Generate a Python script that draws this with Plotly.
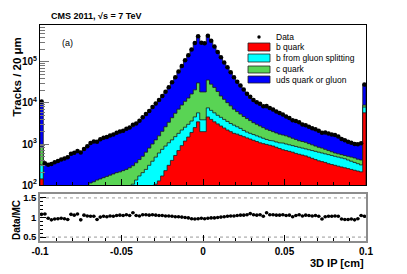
import numpy as np
import plotly.graph_objects as go

# ---------------- data (100 bins of 20 um from -0.1 to 0.1 cm, under/overflow folded into end bins)
bin_low, bin_high, n_bins = -0.1, 0.1, 100

# stacked (cumulative) MC levels, as drawn by the stack
stack_b = [141, 2, 2, 2, 2, 3, 3, 3, 3, 4, 4, 4, 5, 5, 6, 6, 7, 8, 9, 10,
           11, 12, 14, 16, 18, 20, 23, 26, 30, 35, 41, 48, 57, 68, 84, 105, 126, 166, 224, 302,
           398, 525, 692, 912, 1180, 1480, 1910, 2510, 3470, 2000, 2000, 4570, 3980, 3470, 3090, 2750, 2460, 2190, 2000, 1820,
           1740, 1620, 1510, 1410, 1320, 1230, 1150, 1070, 1020, 977, 933, 891, 832, 776, 724, 692, 661, 631, 589, 562,
           537, 513, 479, 447, 417, 389, 372, 355, 331, 316, 302, 288, 275, 263, 251, 240, 229, 219, 209, 5750]
stack_b_gsp = [309, 4, 4, 5, 5, 6, 6, 7, 8, 9, 10, 11, 12, 14, 16, 18, 20, 23, 26, 30,
               34, 39, 45, 52, 60, 70, 80, 92, 105, 132, 166, 200, 240, 302, 380, 479, 603, 741, 891, 1070,
               1260, 1510, 1820, 2190, 2570, 3020, 3630, 4570, 5750, 3890, 3890, 7590, 6610, 5750, 5010, 4470, 3980, 3550, 3160, 2880,
               2630, 2400, 2140, 1950, 1820, 1700, 1580, 1480, 1380, 1290, 1230, 1180, 1120, 1070, 1050, 1000, 955, 912, 871, 832,
               794, 759, 724, 692, 661, 631, 603, 575, 550, 525, 501, 479, 457, 437, 407, 380, 355, 331, 309, 7940]
stack_b_gsp_c = [851, 25, 28, 32, 35, 40, 44, 48, 52, 58, 63, 69, 76, 83, 93, 112, 120, 132, 141, 151,
                 162, 174, 186, 200, 209, 224, 240, 263, 295, 347, 417, 501, 631, 794, 1000, 1260, 1580, 2040, 2630, 3390,
                 4370, 5620, 7080, 8910, 11000, 13200, 16600, 20900, 30900, 18600, 18600, 36300, 28800, 24000, 19100, 14800, 12300, 10200, 8510, 7080,
                 6170, 5370, 4680, 4170, 3720, 3310, 3020, 2750, 2510, 2290, 2140, 2000, 1860, 1740, 1660, 1580, 1480, 1380, 1290, 1200,
                 1150, 1100, 1020, 955, 891, 832, 794, 741, 692, 646, 603, 575, 550, 525, 501, 479, 457, 427, 407, 8910]
stack_all = [10000, 309, 316, 347, 372, 398, 427, 457, 501, 537, 575, 617, 661, 708, 851, 1020, 1120, 1200, 1290, 1380,
             1450, 1550, 1660, 1780, 1910, 2000, 2190, 2400, 2630, 3020, 3550, 4170, 5010, 6030, 7410, 9120, 11200, 14100, 18200, 23400,
             30900, 41700, 57500, 79400, 110000, 148000, 209000, 302000, 437000, 302000, 295000, 447000, 331000, 240000, 174000, 129000, 95500, 72400, 53700, 40700,
             31600, 25100, 20000, 15800, 12900, 11000, 9770, 8910, 8130, 7590, 7080, 6460, 5890, 5370, 4900, 4470, 4070, 3720, 3470, 3160,
             2880, 2690, 2510, 2340, 2190, 2040, 1950, 1860, 1740, 1660, 1590, 1480, 1380, 1290, 1200, 1120, 1070, 1020, 1000, 27500]
data_mc_ratio = [1.08, 1.09, 0.98, 0.94, 0.96, 0.97, 0.98, 0.97, 0.95, 1.08, 1.06, 1.09, 0.94, 1.06, 1.04, 1.03, 1.03, 0.95, 1.01, 1.03,
                 1.02, 1.04, 1.03, 1.05, 1.06, 1.05, 1.07, 1.05, 1.12, 1.05, 1.04, 1.07, 1.07, 1.06, 1.07, 1.06, 1.05, 1.05, 1.04, 1.04,
                 1.03, 1.02, 1.02, 1.01, 1.00, 0.99, 0.97, 0.96, 0.97, 0.98, 0.97, 0.98, 0.99, 0.99, 1.00, 1.01, 1.02, 1.03, 1.04, 1.04,
                 1.05, 1.06, 1.06, 1.07, 1.10, 1.07, 1.06, 1.07, 1.03, 1.12, 1.07, 1.07, 1.06, 1.06, 1.07, 1.05, 1.06, 1.02, 1.05, 1.07,
                 1.04, 1.06, 1.05, 1.04, 1.05, 1.03, 0.96, 1.02, 1.03, 1.03, 1.04, 1.03, 0.96, 0.95, 0.95, 0.96, 0.94, 0.97, 1.05, 1.03]

x_tick_vals = [-0.1, -0.05, 0, 0.05, 0.1]
x_tick_text = ["-0.1", "-0.05", "0", "0.05", "0.1"]
y_tick_vals = [1e2, 1e3, 1e4, 1e5]
y_tick_text = ["10<sup>2</sup>", "10<sup>3</sup>", "10<sup>4</sup>", "10<sup>5</sup>"]
r_tick_vals = [0.5, 1.0, 1.5]
r_tick_text = ["0.5", "1", "1.5"]

legend_labels = ["Data", "b quark", "b from gluon splitting", "c quark", "uds quark or gluon"]
colors = {"b": "#ff0000", "bg": "#00ffff", "c": "#59d454", "uds": "#0000ff"}

# ---------------- geometry helpers
edges = np.linspace(bin_low, bin_high, n_bins + 1)
centers = 0.5 * (edges[:-1] + edges[1:])
stack_all_a = np.array(stack_all, float)
data_counts = stack_all_a * np.array(data_mc_ratio)

# page body has an 8px default margin -> figure is 8px smaller and placed at (8, 8)
OFF = 8
WIN_W, WIN_H = 407, 274
W, H = WIN_W - OFF, WIN_H - OFF
ML, MT = 40 - OFF, 25 - OFF
MR, MB = 41, 33
PW, PH = W - ML - MR, H - MT - MB


def px(X):  # window pixel -> paper
    return (X - OFF - ML) / PW


def py(Y):
    return (H - MB - (Y - OFF)) / PH


def step(levels, floor=1.0):
    xs, ys = [edges[0]], [floor]
    for i, v in enumerate(levels):
        xs += [edges[i], edges[i + 1]]
        ys += [v, v]
    xs.append(edges[-1])
    ys.append(floor)
    return xs, ys


FONT = "Liberation Sans, Arial, Helvetica, sans-serif"
fig = go.Figure()

for levels, col in [(stack_all, colors["uds"]), (stack_b_gsp_c, colors["c"]),
                    (stack_b_gsp, colors["bg"]), (stack_b, colors["b"])]:
    xs, ys = step(levels)
    fig.add_trace(go.Scatter(x=xs, y=ys, mode="lines", fill="toself", fillcolor=col,
                             line=dict(color="#1a1a1a", width=0.8), hoverinfo="skip",
                             xaxis="x", yaxis="y"))

fig.add_trace(go.Scatter(x=centers, y=data_counts, mode="markers",
                         marker=dict(size=4.5, color="black"), xaxis="x", yaxis="y"))

fig.add_trace(go.Scatter(x=centers, y=data_mc_ratio, mode="markers",
                         marker=dict(size=3.6, color="black"),
                         error_x=dict(type="constant", value=(bin_high - bin_low) / n_bins / 2,
                                      thickness=1, width=0, color="black"),
                         xaxis="x2", yaxis="y2"))

minor_x = [round(v, 3) for v in np.arange(-0.1, 0.1001, 0.01)]
minor_y = [k * 10 ** e for e in range(2, 6) for k in range(2, 10)]
minor_r = [0.4, 0.6, 0.7, 0.8, 0.9, 1.1, 1.2, 1.3, 1.4, 1.6]

split = py(185)
ratio_top = py(194)

common_x = dict(range=[bin_low, bin_high], tickvals=x_tick_vals, ticktext=x_tick_text,
                ticks="inside", ticklen=6, tickcolor="black", showgrid=False, zeroline=False,
                showline=True, mirror=True,
                minor=dict(tickvals=minor_x, ticks="inside", ticklen=3, tickcolor="black"))

fig.update_layout(
    width=W, height=H, margin=dict(l=ML, r=MR, t=MT, b=MB, autoexpand=False),
    paper_bgcolor="white", plot_bgcolor="white", showlegend=False,
    font=dict(family=FONT, color="black"),
    xaxis=dict(domain=[0, 1], anchor="y", showticklabels=False, linecolor="black", linewidth=1,
               matches="x2", **common_x),
    yaxis=dict(domain=[split, 1], anchor="x", type="log", range=[2, 5.902],
               tickvals=y_tick_vals, ticktext=y_tick_text, ticks="inside", ticklen=9,
               tickcolor="#777", showgrid=False, zeroline=False, showline=True, mirror=True,
               linecolor="black", linewidth=1,
               tickfont=dict(size=10, family=FONT, weight="bold"),
               minor=dict(tickvals=minor_y, ticks="inside", ticklen=5, tickcolor="#777")),
    xaxis2=dict(domain=[0, 1], anchor="y2", linecolor="#8c8c8c", linewidth=1.5,
                tickfont=dict(size=10, family=FONT, weight="bold"), **common_x),
    yaxis2=dict(domain=[0, ratio_top], anchor="x2", range=[0.4, 1.6], tickvals=r_tick_vals,
                ticktext=r_tick_text, ticks="inside", ticklen=6, tickcolor="black",
                showgrid=False, zeroline=False, showline=True, mirror=True,
                linecolor="#8c8c8c", linewidth=1.5,
                tickfont=dict(size=9.5, family=FONT, weight="bold"),
                minor=dict(tickvals=minor_r, ticks="inside", ticklen=3, tickcolor="black")),
)

shapes = []
for yv in (0.5, 1.5):
    shapes.append(dict(type="line", xref="x2", yref="y2", x0=bin_low, x1=bin_high, y0=yv, y1=yv,
                       line=dict(color="#9a9a9a", width=1, dash="dot"), layer="below"))

# legend
box_rows = [(43, 51, colors["b"]), (54, 62, colors["bg"]), (66, 73, colors["c"]), (76, 83, colors["uds"])]
for y0, y1, col in box_rows:
    shapes.append(dict(type="rect", xref="paper", yref="paper", x0=px(248), x1=px(270),
                       y0=py(y1), y1=py(y0), fillcolor=col, line=dict(color="#222", width=0.8)))
shapes.append(dict(type="circle", xref="paper", yref="paper", x0=px(257.3), x1=px(260.7),
                   y0=py(38.7), y1=py(35.3), fillcolor="black", line=dict(color="black", width=0)))
fig.update_layout(shapes=shapes)

ann = []
text_rows = [37, 47, 58, 69, 80]
for lab, yy in zip(legend_labels, text_rows):
    ann.append(dict(text=lab, x=px(274), y=py(yy), xref="paper", yref="paper", xanchor="left",
                    yanchor="middle", showarrow=False, font=dict(size=8.5, family=FONT)))
ann.append(dict(text="CMS 2011, \u221as = 7 TeV", x=px(49), y=py(16.5), xref="paper", yref="paper",
                xanchor="left", yanchor="middle", showarrow=False,
                font=dict(size=9, family=FONT, weight="bold")))
ann.append(dict(text="(a)", x=px(60), y=py(43), xref="paper", yref="paper", xanchor="left",
                yanchor="middle", showarrow=False, font=dict(size=9, family=FONT)))
ann.append(dict(text="Tracks / 20 \u03bcm", x=px(8.5), y=py(77), xref="paper", yref="paper",
                xanchor="left", yanchor="middle", textangle=-90, showarrow=False,
                font=dict(size=11.5, family=FONT, weight="bold")))
ann.append(dict(text="Data/MC", x=px(8.5), y=py(220), xref="paper", yref="paper",
                xanchor="left", yanchor="middle", textangle=-90, showarrow=False,
                font=dict(size=10, family=FONT, weight="bold")))
ann.append(dict(text="3D IP [cm]", x=px(366), y=py(263), xref="paper", yref="paper",
                xanchor="right", yanchor="middle", showarrow=False,
                font=dict(size=11, family=FONT, weight="bold")))
fig.update_layout(annotations=ann)

fig.write_html("out.html")
